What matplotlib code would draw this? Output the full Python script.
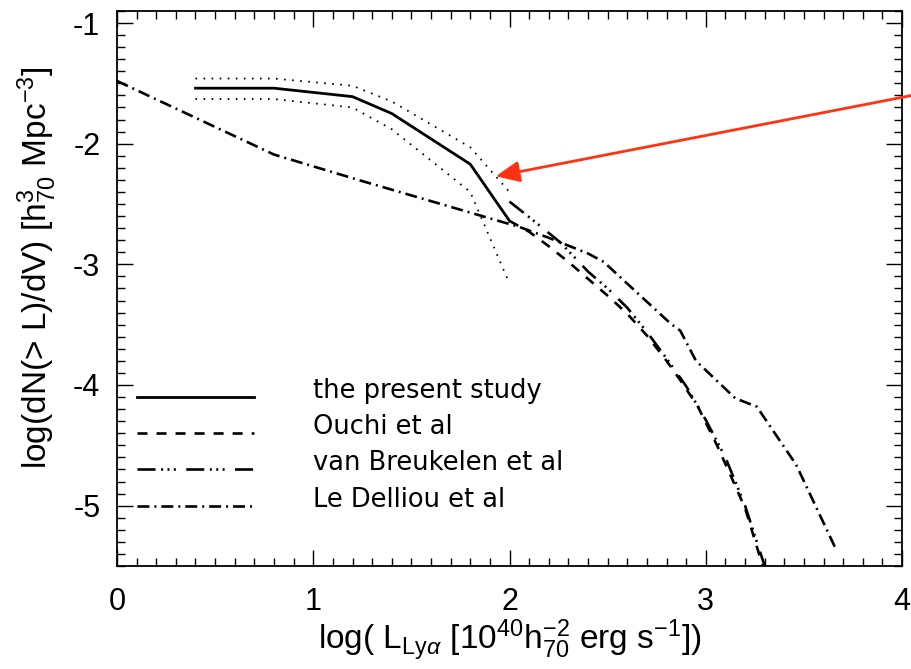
import matplotlib
matplotlib.use("Agg")
import matplotlib.pyplot as plt
from matplotlib.ticker import MultipleLocator
from matplotlib.lines import Line2D

plt.rcParams['font.family'] = ['Liberation Sans', 'DejaVu Sans']
plt.rcParams['mathtext.fontset'] = 'custom'
plt.rcParams['mathtext.rm'] = 'Liberation Sans'
plt.rcParams['mathtext.it'] = 'Liberation Sans:italic'
plt.rcParams['mathtext.sf'] = 'Liberation Sans'
plt.rcParams['axes.unicode_minus'] = False
plt.rcParams['lines.scale_dashes'] = False

# --- present study: cumulative Lya luminosity function with error envelope
study_x = [0.4, 0.8, 1.2, 1.4, 1.8, 2.0]
study_y = [-1.54, -1.54, -1.61, -1.75, -2.17, -2.64]
study_hi = [-1.46, -1.46, -1.52, -1.65, -2.03, -2.40]
study_lo = [-1.63, -1.63, -1.70, -1.88, -2.40, -3.16]

# --- Ouchi et al
ouchi_x = [2.0, 2.1, 2.2, 2.3, 2.4, 2.5, 2.6, 2.7, 2.8, 2.87, 2.96, 3.06, 3.14, 3.2, 3.29]
ouchi_y = [-2.64, -2.73, -2.85, -2.98, -3.12, -3.26, -3.41, -3.59, -3.80, -3.96, -4.18, -4.51, -4.80, -5.02, -5.50]

# --- van Breukelen et al
vb_x = [2.0, 2.07, 2.17, 2.26, 2.4, 2.5, 2.6, 2.7, 2.8, 2.9, 3.0, 3.1, 3.2, 3.3]
vb_y = [-2.48, -2.57, -2.70, -2.82, -3.06, -3.20, -3.36, -3.56, -3.78, -4.01, -4.29, -4.60, -5.00, -5.50]

# --- Le Delliou et al
ld_x = [0.0, 0.8, 1.25, 2.05, 2.2, 2.4, 2.48, 2.82, 2.87, 2.95, 3.15, 3.26, 3.46, 3.66]
ld_y = [-1.48, -2.09, -2.31, -2.69, -2.78, -2.91, -2.98, -3.49, -3.55, -3.80, -4.11, -4.18, -4.66, -5.35]

legend_labels = ["the present study", "Ouchi et al", "van Breukelen et al", "Le Delliou et al"]

# arrow endpoints (data coordinates)
arrow_tail = (4.05, -1.60)
arrow_head = (1.93, -2.27)

# dash patterns in points
dash_ouchi = (0, (7.2, 6.5))
dash_vb = (0, (13, 4, 1.4, 3.2, 1.4, 3.2, 1.4, 7.5))
dash_ld = (0, (8.6, 3.6, 1.4, 3.6))
dash_dot = (0, (1.2, 4.6))

styles = [
    dict(color='black', lw=2.0, linestyle='-'),
    dict(color='black', lw=1.9, linestyle=dash_ouchi),
    dict(color='black', lw=1.9, linestyle=dash_vb),
    dict(color='black', lw=1.9, linestyle=dash_ld),
]

fig = plt.figure(figsize=(9.11, 6.69), dpi=100)
ax = fig.add_axes([0.1284, 0.154, 0.8618, 0.8296])

ax.plot(study_x, study_y, **styles[0])
ax.plot(study_x, study_hi, color='black', lw=1.3, linestyle=dash_dot)
ax.plot(study_x, study_lo, color='black', lw=1.3, linestyle=dash_dot)
ax.plot(ouchi_x, ouchi_y, **styles[1])
ax.plot(vb_x, vb_y, **styles[2])
ax.plot(ld_x, ld_y, **styles[3])

ax.set_xlim(0, 4)
ax.set_ylim(-5.5, -0.9)
ax.xaxis.set_major_locator(MultipleLocator(1))
ax.xaxis.set_minor_locator(MultipleLocator(0.1))
ax.yaxis.set_major_locator(MultipleLocator(1))
ax.yaxis.set_minor_locator(MultipleLocator(0.1))
ax.tick_params(which='both', direction='in', top=True, right=True, width=1.0, colors='black')
ax.tick_params(which='major', length=11.5)
ax.tick_params(which='minor', length=6)
ax.tick_params(axis='x', which='major', labelsize=22, pad=15)
ax.tick_params(axis='y', which='major', labelsize=22, pad=12)
for s in ax.spines.values():
    s.set_linewidth(1.3)

ax.set_xlabel(r'log( L$_{\mathrm{Ly}\alpha}$ [10$^{40}$h$^{-2}_{70}$ erg s$^{-1}$])', fontsize=24, labelpad=0)
ax.set_ylabel(r'log(dN(> L)/dV) [h$^{3}_{70}$ Mpc$^{-3}$]', fontsize=24)
ax.yaxis.set_label_coords(-0.074, 0.537)

# legend drawn as line samples and labels inside the axes
leg_y = [0.3045, 0.2396, 0.1748, 0.1081]
for st, lab, yy in zip(styles, legend_labels, leg_y):
    ax.add_line(Line2D([0.0255, 0.1745], [yy, yy], transform=ax.transAxes, **st))
    ax.text(0.2497, yy - 0.002, lab, transform=ax.transAxes, fontsize=18.5,
            family='DejaVu Sans', va='baseline', ha='left')

ax.annotate('', xy=arrow_head, xytext=arrow_tail, xycoords='data',
            annotation_clip=False,
            arrowprops=dict(arrowstyle='-|>,head_length=0.9,head_width=0.4',
                            color='#ff3311', lw=2.0, mutation_scale=16,
                            shrinkA=0, shrinkB=0))

fig.savefig('out.png', dpi=100)
